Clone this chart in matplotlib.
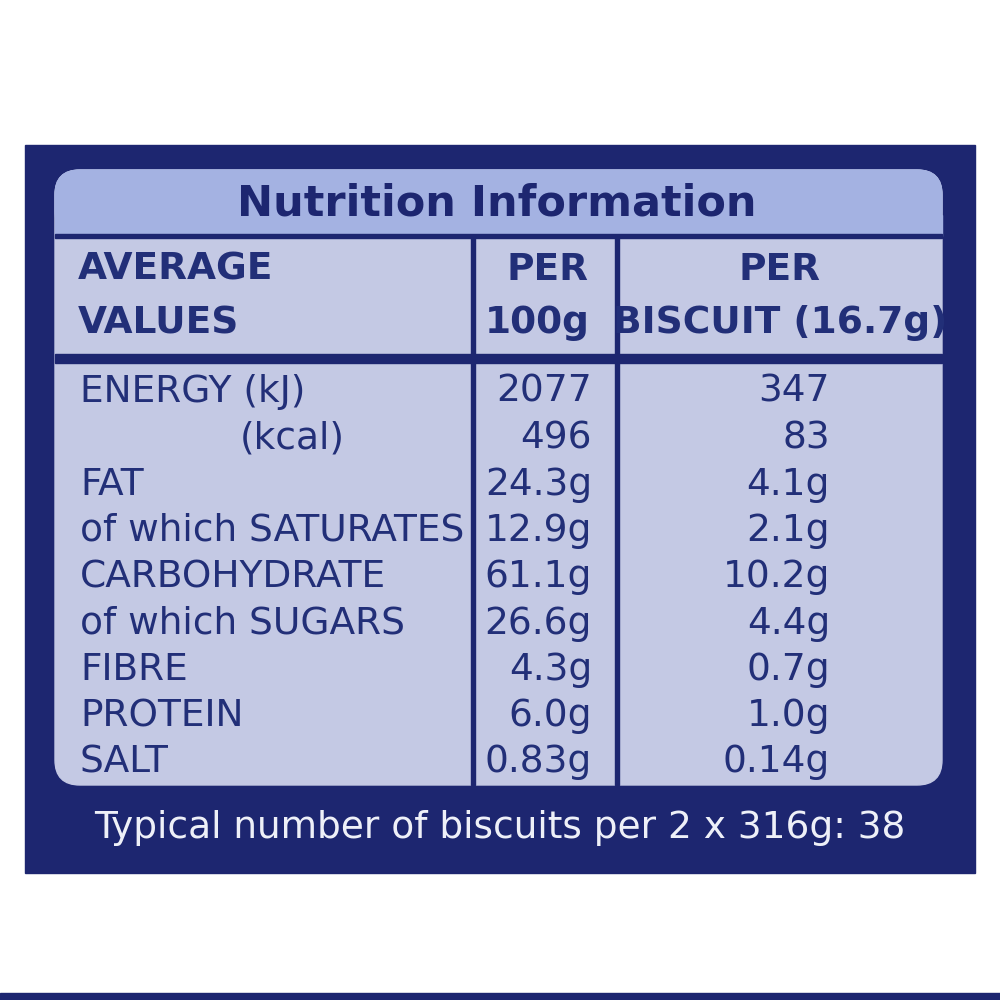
import matplotlib.pyplot as plt
from matplotlib.patches import FancyBboxPatch, Rectangle

nutrients = ["ENERGY (kJ)", "(kcal)", "FAT", "of which SATURATES", "CARBOHYDRATE",
             "of which SUGARS", "FIBRE", "PROTEIN", "SALT"]
per_100g = ["2077", "496", "24.3g", "12.9g", "61.1g", "26.6g", "4.3g", "6.0g", "0.83g"]
per_biscuit = ["347", "83", "4.1g", "2.1g", "10.2g", "4.4g", "0.7g", "1.0g", "0.14g"]
footer = "Typical number of biscuits per 2 x 316g: 38"

navy = "#1d2670"
ink = "#222f78"
panel = "#c4c9e4"
title_bg = "#a4b2e2"
font = ["Liberation Sans Narrow", "DejaVu Sans Condensed", "DejaVu Sans"]

fig = plt.figure(figsize=(10, 10), dpi=100)
ax = fig.add_axes([0, 0, 1, 1])
ax.set_xlim(0, 1000)
ax.set_ylim(1000, 0)
ax.axis("off")

ax.add_patch(Rectangle((25, 145), 950, 728, color=navy))
ax.add_patch(Rectangle((0, 993), 1000, 7, color=navy))
ax.add_patch(FancyBboxPatch((55, 170), 887, 615, boxstyle="round,pad=0,rounding_size=25",
                            color=panel))
ax.add_patch(FancyBboxPatch((55, 170), 887, 66, boxstyle="round,pad=0,rounding_size=25",
                            color=title_bg))
ax.add_patch(Rectangle((55, 215), 887, 21, color=title_bg))
ax.add_patch(Rectangle((55, 234), 887, 4, color=navy))
ax.add_patch(Rectangle((55, 354), 887, 9, color=navy))
for x in (473, 617):
    ax.add_patch(Rectangle((x - 2, 236), 4, 549, color=navy))

ax.text(497, 203, "Nutrition Information", ha="center", va="center", fontsize=31,
        fontweight="heavy", color=navy, family=["DejaVu Sans"])
hd = dict(fontsize=27, fontweight="bold", color=ink, family=font, va="center")
ax.text(78, 270, "AVERAGE", ha="left", **hd)
ax.text(78, 323, "VALUES", ha="left", **hd)
ax.text(547, 270, "PER", ha="center", **hd)
ax.text(590, 323, "100g", ha="right", **hd)
ax.text(780, 270, "PER", ha="center", **hd)
ax.text(780, 323, "BISCUIT (16.7g)", ha="center", **hd)

tx = dict(fontsize=27, color=ink, family=font, va="center")
for i, (name, a, b) in enumerate(zip(nutrients, per_100g, per_biscuit)):
    y = 392 + i * 46.3
    ax.text(240 if name == "(kcal)" else 80, y, name, ha="left", **tx)
    ax.text(592, y, a, ha="right", **tx)
    ax.text(830, y, b, ha="right", **tx)

ax.text(500, 828, footer, ha="center", va="center", fontsize=27, color="#eef0f8", family=font)

fig.savefig("out.png", dpi=100)
